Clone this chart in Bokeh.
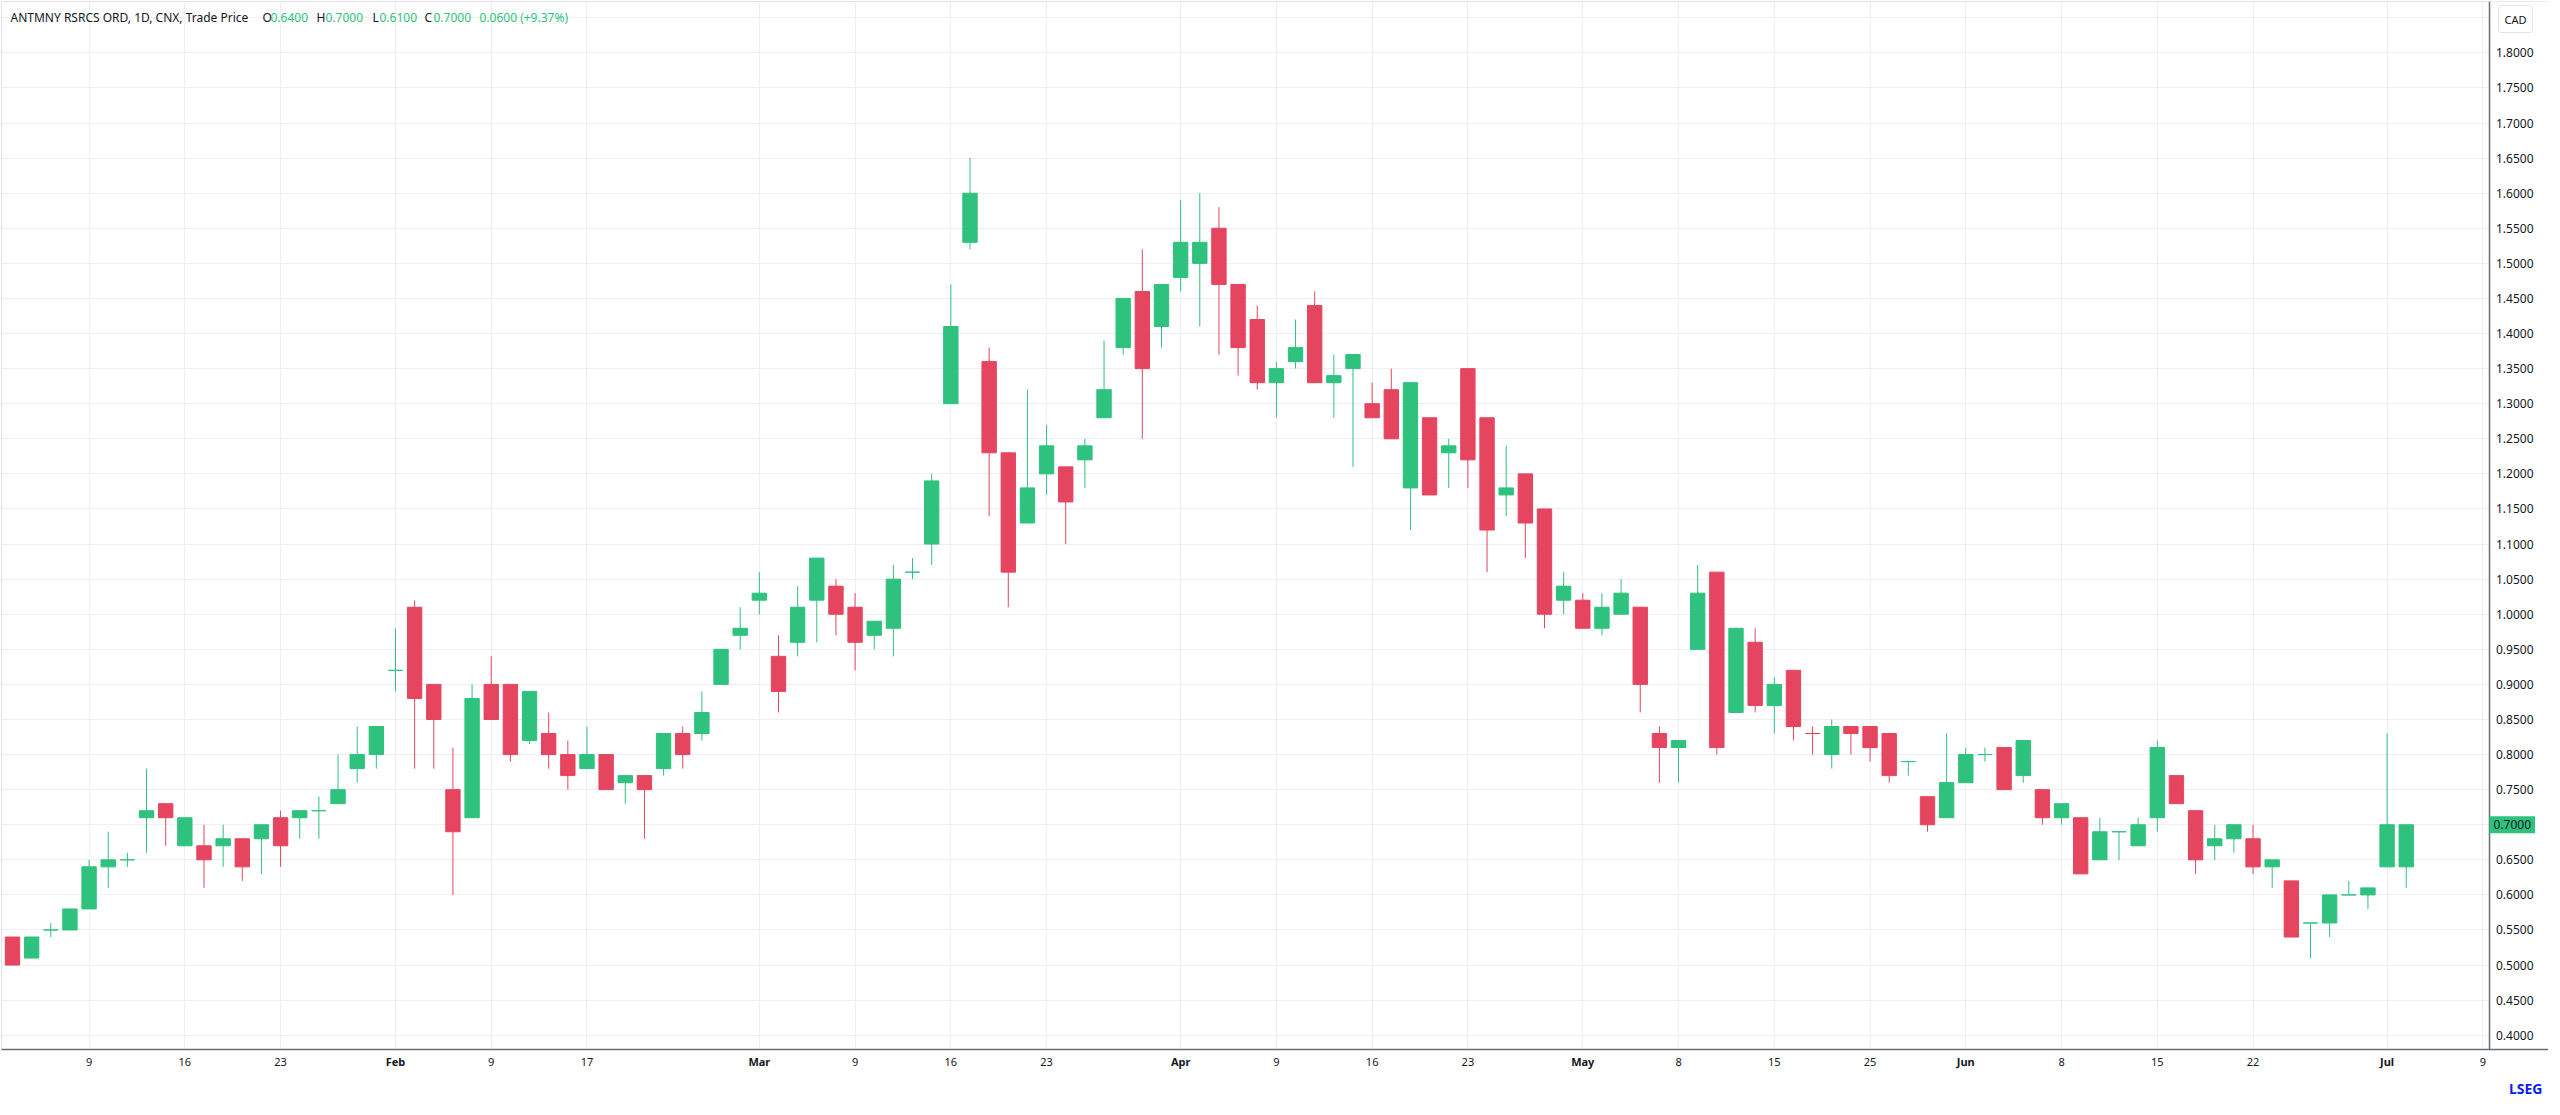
import pandas as pd
from bokeh.plotting import figure
from bokeh.models import (ColumnDataSource, FixedTicker, NumeralTickFormatter, Label, Title,
                          BoxAnnotation, LinearAxis)
from bokeh.embed import file_html
from bokeh.resources import INLINE

# ---------------- data ----------------
holidays = ["2026-02-16", "2026-04-03", "2026-05-18", "2026-07-01"]
calendar = [d.strftime("%Y-%m-%d") for d in pd.bdate_range("2026-01-05", "2026-07-10")
            if d.strftime("%Y-%m-%d") not in holidays]

open_ = [0.54, 0.51, 0.55, 0.55, 0.58, 0.64, 0.65, 0.71, 0.73, 0.67,
         0.67, 0.67, 0.68, 0.68, 0.71, 0.71, 0.72, 0.73, 0.78, 0.80,
         0.92, 1.01, 0.90, 0.75, 0.71, 0.90, 0.90, 0.82, 0.83, 0.80,
         0.78, 0.80, 0.76, 0.77, 0.78, 0.83, 0.83, 0.90, 0.97, 1.02,
         0.94, 0.96, 1.02, 1.04, 1.01, 0.97, 0.98, 1.06, 1.10, 1.30,
         1.53, 1.36, 1.23, 1.13, 1.20, 1.21, 1.22, 1.28, 1.38, 1.46,
         1.41, 1.48, 1.50, 1.55, 1.47, 1.42, 1.33, 1.36, 1.44, 1.33,
         1.35, 1.30, 1.32, 1.18, 1.28, 1.23, 1.35, 1.28, 1.17, 1.20,
         1.15, 1.02, 1.02, 0.98, 1.00, 1.01, 0.83, 0.81, 0.95, 1.06,
         0.86, 0.96, 0.87, 0.92, 0.83, 0.80, 0.84, 0.84, 0.83, 0.79,
         0.74, 0.71, 0.76, 0.80, 0.81, 0.77, 0.75, 0.71, 0.71, 0.65,
         0.69, 0.67, 0.71, 0.77, 0.72, 0.67, 0.68, 0.68, 0.64, 0.62,
         0.56, 0.56, 0.60, 0.60, 0.64, 0.64]
high = [0.54, 0.54, 0.56, 0.58, 0.65, 0.69, 0.66, 0.78, 0.73, 0.71,
        0.70, 0.70, 0.68, 0.70, 0.72, 0.72, 0.74, 0.80, 0.84, 0.84,
        0.98, 1.02, 0.90, 0.81, 0.90, 0.94, 0.90, 0.89, 0.86, 0.82,
        0.84, 0.80, 0.77, 0.77, 0.83, 0.84, 0.89, 0.95, 1.01, 1.06,
        0.97, 1.04, 1.08, 1.05, 1.03, 0.99, 1.07, 1.08, 1.20, 1.47,
        1.65, 1.38, 1.23, 1.32, 1.27, 1.21, 1.25, 1.39, 1.45, 1.52,
        1.47, 1.59, 1.60, 1.58, 1.47, 1.44, 1.36, 1.42, 1.46, 1.37,
        1.37, 1.33, 1.35, 1.33, 1.28, 1.25, 1.35, 1.28, 1.24, 1.20,
        1.15, 1.06, 1.03, 1.03, 1.05, 1.01, 0.84, 0.82, 1.07, 1.06,
        0.98, 0.98, 0.91, 0.92, 0.84, 0.85, 0.84, 0.84, 0.83, 0.79,
        0.74, 0.83, 0.81, 0.81, 0.81, 0.82, 0.75, 0.73, 0.71, 0.71,
        0.69, 0.71, 0.82, 0.77, 0.72, 0.70, 0.70, 0.70, 0.65, 0.62,
        0.56, 0.60, 0.62, 0.61, 0.83, 0.70]
low = [0.50, 0.51, 0.54, 0.55, 0.58, 0.61, 0.64, 0.66, 0.67, 0.67,
       0.61, 0.64, 0.62, 0.63, 0.64, 0.68, 0.68, 0.73, 0.76, 0.78,
       0.89, 0.78, 0.78, 0.60, 0.71, 0.85, 0.79, 0.815, 0.78, 0.75,
       0.78, 0.75, 0.73, 0.68, 0.77, 0.78, 0.82, 0.90, 0.95, 1.00,
       0.86, 0.94, 0.96, 0.97, 0.92, 0.95, 0.94, 1.05, 1.07, 1.30,
       1.52, 1.14, 1.01, 1.13, 1.17, 1.10, 1.18, 1.28, 1.37, 1.25,
       1.38, 1.46, 1.41, 1.37, 1.34, 1.32, 1.28, 1.35, 1.33, 1.28,
       1.21, 1.28, 1.25, 1.12, 1.17, 1.18, 1.18, 1.06, 1.14, 1.08,
       0.98, 1.00, 0.98, 0.97, 1.00, 0.86, 0.76, 0.76, 0.95, 0.80,
       0.86, 0.86, 0.83, 0.82, 0.80, 0.78, 0.80, 0.79, 0.76, 0.77,
       0.69, 0.71, 0.76, 0.79, 0.75, 0.76, 0.70, 0.70, 0.63, 0.65,
       0.65, 0.67, 0.69, 0.73, 0.63, 0.65, 0.66, 0.63, 0.61, 0.54,
       0.51, 0.54, 0.60, 0.58, 0.64, 0.61]
close = [0.50, 0.54, 0.55, 0.58, 0.64, 0.65, 0.65, 0.72, 0.71, 0.71,
         0.65, 0.68, 0.64, 0.70, 0.67, 0.72, 0.72, 0.75, 0.80, 0.84,
         0.92, 0.88, 0.85, 0.69, 0.88, 0.85, 0.80, 0.89, 0.80, 0.77,
         0.80, 0.75, 0.77, 0.75, 0.83, 0.80, 0.86, 0.95, 0.98, 1.03,
         0.89, 1.01, 1.08, 1.00, 0.96, 0.99, 1.05, 1.06, 1.19, 1.41,
         1.60, 1.23, 1.06, 1.18, 1.24, 1.16, 1.24, 1.32, 1.45, 1.35,
         1.47, 1.53, 1.53, 1.47, 1.38, 1.33, 1.35, 1.38, 1.33, 1.34,
         1.37, 1.28, 1.25, 1.33, 1.17, 1.24, 1.22, 1.12, 1.18, 1.13,
         1.00, 1.04, 0.98, 1.01, 1.03, 0.90, 0.81, 0.82, 1.03, 0.81,
         0.98, 0.87, 0.90, 0.84, 0.83, 0.84, 0.83, 0.81, 0.77, 0.79,
         0.70, 0.76, 0.80, 0.80, 0.75, 0.82, 0.71, 0.73, 0.63, 0.69,
         0.69, 0.70, 0.81, 0.73, 0.65, 0.68, 0.70, 0.64, 0.65, 0.54,
         0.56, 0.60, 0.60, 0.61, 0.70, 0.70]
dates = calendar[:len(close)]

day_tick_dates = ["2026-01-09", "2026-01-16", "2026-01-23", "2026-02-09", "2026-02-17",
                  "2026-03-09", "2026-03-16", "2026-03-23", "2026-04-09", "2026-04-16",
                  "2026-04-23", "2026-05-08", "2026-05-15", "2026-05-25", "2026-06-08",
                  "2026-06-15", "2026-06-22", "2026-07-09"]
day_tick_labels = ["9", "16", "23", "9", "17", "9", "16", "23", "9", "16", "23",
                   "8", "15", "25", "8", "15", "22", "9"]
month_tick_dates = ["2026-02-02", "2026-03-02", "2026-04-01", "2026-05-01", "2026-06-01",
                    "2026-07-02"]
month_tick_labels = ["Feb", "Mar", "Apr", "May", "Jun", "Jul"]
price_ticks = [round(0.40 + 0.05 * k, 2) for k in range(30)]
currency = "CAD"
title_text = "ANTMNY RSRCS ORD, 1D, CNX, Trade Price"
last_change = "0.0600 (+9.37%)"

# ---------------- styling ----------------
GREEN = "#2ec27e"
RED = "#e5455f"
TEXT = "#131722"
GRID = "#efefef"
FONT = "Noto Sans"
PX = 19.15            # pixels per trading day
X0 = -0.574           # left edge of the plot, in trading-day index
AXIS_X = 129.35       # where the price scale sits
FRAME_W, FRAME_H = 2547, 1048

colors = []
for i, (o, c) in enumerate(zip(open_, close)):
    if c > o:
        colors.append(GREEN)
    elif c < o:
        colors.append(RED)
    else:
        prev = close[i - 1] if i > 0 else c
        colors.append(GREEN if c >= prev else RED)

xs = [calendar.index(d) for d in dates]
src = ColumnDataSource(dict(
    x=xs, date=dates, open=open_, high=high, low=low, close=close,
    top=[max(o, c) for o, c in zip(open_, close)],
    bottom=[min(o, c) for o, c in zip(open_, close)],
    color=colors))

p = figure(width=2548, height=1106, x_range=(X0, X0 + FRAME_W / PX), y_range=(0.3797, 1.8732),
           y_axis_location="left", output_backend="svg", toolbar_location=None,
           min_border_left=1, min_border_top=1, min_border_right=0, min_border_bottom=57)
p.background_fill_color = "white"
p.border_fill_color = "white"
p.outline_line_color = "#e0e3eb"

# blank area to the right of the price scale (hides grid lines there)
p.add_layout(BoxAnnotation(left=AXIS_X, fill_color="white", fill_alpha=1.0,
                           line_alpha=0, level="underlay"))

p.segment(x0="x", y0="low", x1="x", y1="high", source=src, line_color="color", line_width=1)
p.vbar(x="x", top="top", bottom="bottom", width=0.75, source=src,
       fill_color="color", line_color="color", line_width=1)

# axes
day_pos = [calendar.index(d) for d in day_tick_dates]
month_pos = [calendar.index(d) for d in month_tick_dates]
xa = p.xaxis[0]
xa.ticker = FixedTicker(ticks=day_pos)
xa.major_label_overrides = {t: l for t, l in zip(day_pos, day_tick_labels)}
xm = LinearAxis(ticker=FixedTicker(ticks=month_pos),
                major_label_overrides={t: l for t, l in zip(month_pos, month_tick_labels)})
p.add_layout(xm, "below")
ya = p.yaxis[0]
ya.ticker = FixedTicker(ticks=price_ticks)
ya.formatter = NumeralTickFormatter(format="0.0000")
ya.major_label_overrides = {1.85: "", 0.7: ""}
ya.fixed_location = AXIS_X
for ax in (xa, xm, ya):
    ax.axis_line_color = "#6a6d78"
    ax.axis_line_width = 1.5
    ax.major_tick_out = 0
    ax.major_tick_in = 0
    ax.minor_tick_out = 0
    ax.minor_tick_in = 0
    ax.major_label_text_color = TEXT
    ax.major_label_text_font = FONT
xa.major_label_text_font_size = "11px"
xa.major_label_standoff = 8
xm.major_label_text_font_size = "11px"
xm.major_label_text_font_style = "bold"
xm.axis_line_color = None
xm.major_label_standoff = -15      # months share the row of the day numbers
ya.major_label_text_font_size = "12px"
ya.major_label_standoff = -44      # labels to the right of the price scale line

p.xgrid.grid_line_color = GRID
p.ygrid.grid_line_color = GRID
p.xgrid.ticker = FixedTicker(ticks=sorted(day_pos + month_pos))
p.ygrid.ticker = ya.ticker

# header
def hdr(x, text, color):
    p.add_layout(Label(x=x, y=FRAME_H - 16, x_units="screen", y_units="screen", text=text,
                       text_color=color, text_font=FONT, text_font_size="12px",
                       text_baseline="middle", text_align="left"))

hdr(9, title_text, TEXT)
o_last, h_last, l_last, c_last = open_[-1], high[-1], low[-1], close[-1]
hdr(261, "O", TEXT); hdr(269, f"{o_last:.4f}", GREEN)
hdr(315, "H", TEXT); hdr(324, f"{h_last:.4f}", GREEN)
hdr(371, "L", TEXT); hdr(378, f"{l_last:.4f}", GREEN)
hdr(423, "C", TEXT); hdr(432, f"{c_last:.4f}", GREEN)
hdr(478, last_change, GREEN)

# currency box
p.add_layout(Label(x=2514, y=FRAME_H - 17.5, x_units="screen", y_units="screen", text=currency,
                   text_color=TEXT, text_font=FONT, text_font_size="11px",
                   text_align="center", text_baseline="middle",
                   background_fill_color="white", border_line_color="#e0e3eb",
                   padding=6, border_radius=3))

# last price marker
p.add_layout(Label(x=AXIS_X, y=c_last, text=f"{c_last:.4f}",
                   text_color=TEXT, text_font=FONT, text_font_size="12px",
                   text_align="left", text_baseline="middle",
                   background_fill_color=GREEN, padding=4))

# logo
p.add_layout(Title(text="LSEG", align="right", offset=6, text_color="#0a22f0", text_font=FONT,
                   text_font_size="14px", text_font_style="bold"), "below")

open("out.html", "w").write(file_html(p, INLINE))
